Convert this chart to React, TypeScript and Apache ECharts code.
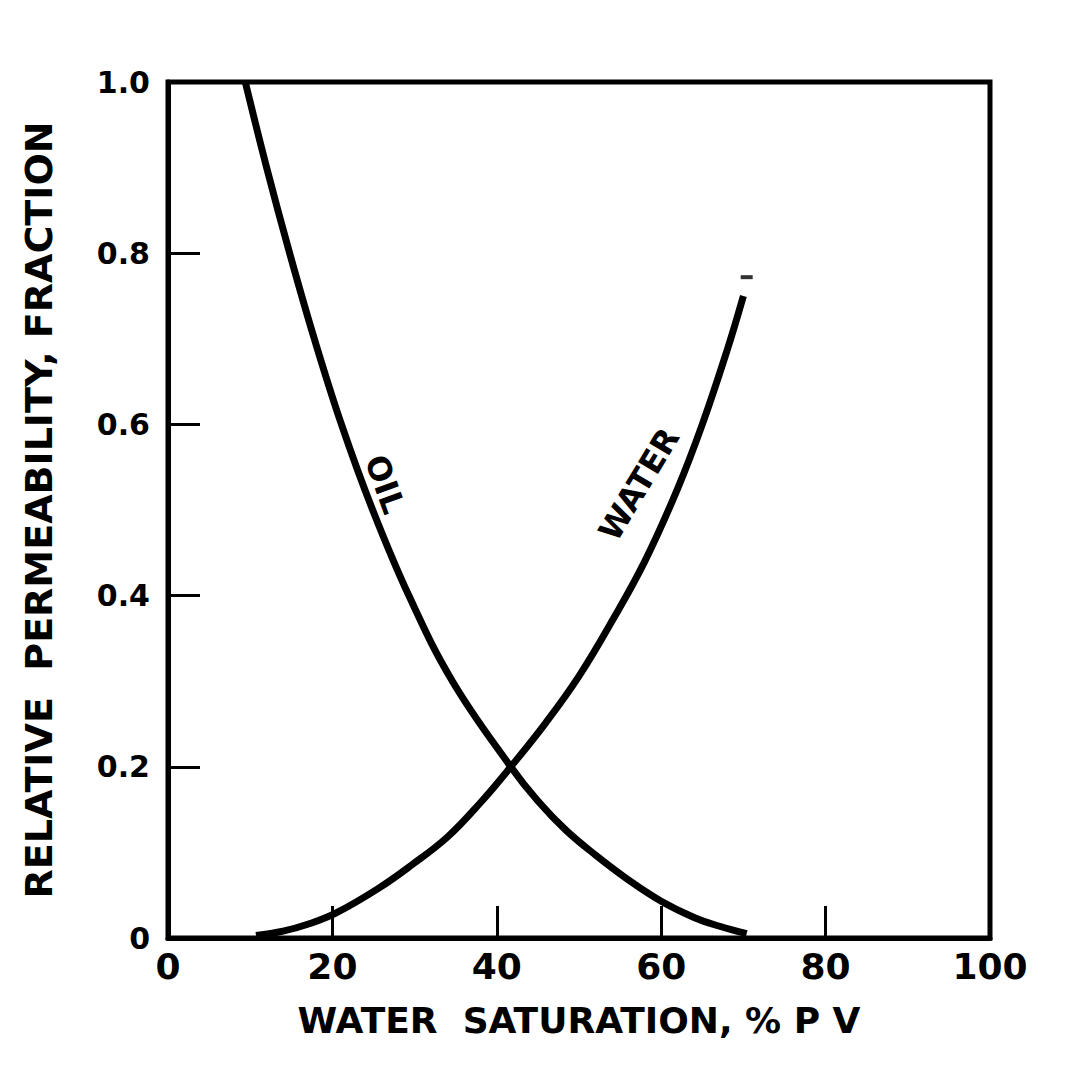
import React, { useEffect, useRef } from "react";
import * as echarts from "echarts";

// Water saturation (% PV) and relative permeability (fraction)
const oilSw = [9.4, 12.0, 14.8, 17.8, 21.1, 24.9, 29.3, 34.6, 41.7, 45.0, 48.4, 52.0, 56.0, 60.0, 64.0, 67.0, 70.4];
const oilKr = [1.0, 0.9, 0.8, 0.7, 0.6, 0.5, 0.4, 0.3, 0.2, 0.16, 0.126, 0.097, 0.068, 0.043, 0.024, 0.014, 0.005];

const waterSw = [10.7, 14.0, 17.0, 20.4, 25.6, 29.6, 34.0, 38.0, 41.7, 46.0, 50.0, 54.0, 58.0, 62.0, 65.0, 68.0, 70.0];
const waterKr = [0.003, 0.008, 0.016, 0.029, 0.058, 0.085, 0.118, 0.158, 0.2, 0.252, 0.306, 0.37, 0.44, 0.525, 0.6, 0.686, 0.75];

const stubMark = [[70.4, 0.772]];

const xTickValues = [0, 20, 40, 60, 80, 100];
const yTickValues = [0, 0.2, 0.4, 0.6, 0.8, 1.0];

const curveNames = ["OIL", "WATER"];
const xTitle = "WATER  SATURATION, % P V";
const yTitle = "RELATIVE  PERMEABILITY, FRACTION";

const FONT = "DejaVu Sans";

export default function App() {
  const ref = useRef<HTMLDivElement>(null);
  useEffect(() => {
    document.body.style.margin = "0";
    const chart = echarts.init(ref.current!, null, { renderer: "svg" });
    const zip = (xs: number[], ys: number[]) => xs.map((x, i) => [x, ys[i]]);
    chart.setOption({
      animation: false,
      backgroundColor: "#ffffff",
      grid: {
        left: 168,
        top: 82,
        right: 82,
        bottom: 135,
        show: true,
        borderColor: "#000",
        borderWidth: 5,
        backgroundColor: "transparent",
      },
      xAxis: {
        type: "value",
        min: 0,
        max: 100,
        interval: 20,
        name: xTitle,
        nameLocation: "middle",
        nameGap: 64,
        nameTextStyle: { fontFamily: FONT, fontSize: 36, fontWeight: "bold", color: "#000" },
        axisLine: { show: true, lineStyle: { color: "#000", width: 5 } },
        axisTick: { show: true, inside: true, length: 32, lineStyle: { color: "#000", width: 3 } },
        axisLabel: {
          margin: 10,
          fontFamily: FONT,
          fontSize: 36,
          fontWeight: "bold",
          color: "#000",
          customValues: xTickValues,
        },
        splitLine: { show: false },
      },
      yAxis: {
        type: "value",
        min: 0,
        max: 1,
        interval: 0.2,
        name: yTitle,
        nameLocation: "middle",
        nameGap: 110,
        nameTextStyle: { fontFamily: FONT, fontSize: 38, fontWeight: "bold", color: "#000" },
        axisLine: { show: true, lineStyle: { color: "#000", width: 5 } },
        axisTick: { show: true, inside: true, length: 32, lineStyle: { color: "#000", width: 3 } },
        axisLabel: {
          margin: 18,
          fontFamily: FONT,
          fontSize: 30,
          fontWeight: "bold",
          color: "#000",
          formatter: (v: number) => (v === 0 ? "0" : v.toFixed(1)),
          customValues: yTickValues,
        },
        splitLine: { show: false },
      },
      series: [
        {
          name: curveNames[0],
          type: "line",
          data: zip(oilSw, oilKr),
          smooth: 0.4,
          showSymbol: false,
          symbol: "none",
          lineStyle: { color: "#000", width: 7 },
        },
        {
          name: curveNames[1],
          type: "line",
          data: zip(waterSw, waterKr),
          smooth: 0.4,
          showSymbol: false,
          symbol: "none",
          lineStyle: { color: "#000", width: 7 },
        },
        {
          type: "scatter",
          data: stubMark,
          symbol: "rect",
          symbolSize: [12, 4],
          itemStyle: { color: "#000" },
        },
      ],
    });
    const oilPt = chart.convertToPixel({ gridIndex: 0 }, [26.4, 0.53]) as number[];
    const waterPt = chart.convertToPixel({ gridIndex: 0 }, [57.3, 0.53]) as number[];
    chart.setOption({
      graphic: [
        {
          type: "text",
          x: oilPt[0],
          y: oilPt[1],
          rotation: (-70 * Math.PI) / 180,
          style: {
            text: curveNames[0],
            fontFamily: FONT,
            fontSize: 32,
            fontWeight: "bold",
            fill: "#000",
            align: "center",
            verticalAlign: "middle",
          },
        },
        {
          type: "text",
          x: waterPt[0],
          y: waterPt[1],
          rotation: (59 * Math.PI) / 180,
          style: {
            text: curveNames[1],
            fontFamily: FONT,
            fontSize: 32,
            fontWeight: "bold",
            fill: "#000",
            align: "center",
            verticalAlign: "middle",
          },
        },
      ],
    });
    return () => chart.dispose();
  }, []);
  return (
    <div
      ref={ref}
      style={{ position: "absolute", left: 0, top: 0, width: 1072, height: 1073 }}
    />
  );
}
